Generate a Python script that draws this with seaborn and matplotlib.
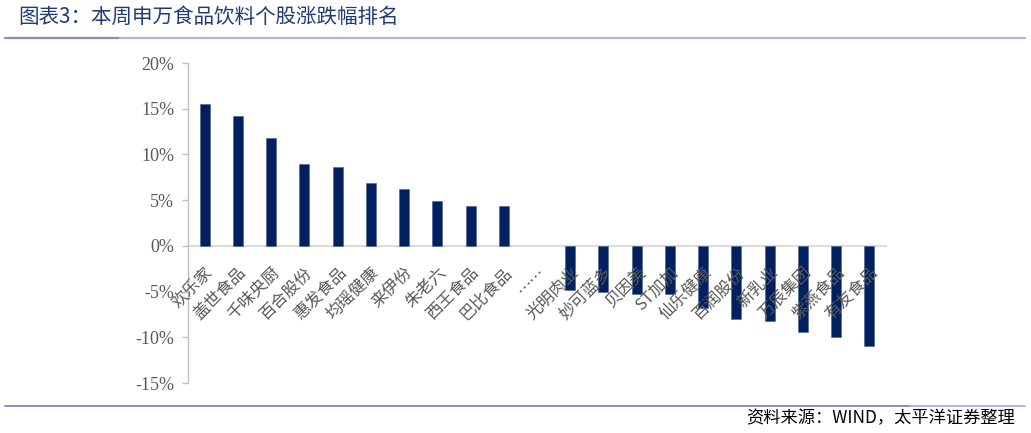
import matplotlib
matplotlib.use('Agg')
import matplotlib.pyplot as plt
import seaborn as sns
import numpy as np
import pandas as pd
from matplotlib.lines import Line2D

categories = ["欢乐家", "盖世食品", "千味央厨", "百合股份", "惠发食品", "均瑶健康", "来伊份",
              "朱老六", "西王食品", "巴比食品", "……", "光明肉业", "妙可蓝多", "贝因美", "ST加加",
              "仙乐健康", "百润股份", "新乳业", "万辰集团", "紫燕食品", "有友食品"]
changes = [15.5, 14.2, 11.8, 8.9, 8.6, 6.9, 6.2, 4.95, 4.4, 4.35, np.nan,
           -4.8, -5.05, -5.25, -5.3, -6.8, -8.0, -8.2, -9.4, -10.0, -11.0]
yticks = [-15, -10, -5, 0, 5, 10, 15, 20]
title = "图表3：本周申万食品饮料个股涨跌幅排名"
source = "资料来源：WIND，太平洋证券整理"

sns.set_theme(style='white')
plt.rcParams['font.family'] = ['Noto Sans CJK SC', 'DejaVu Sans']

W, H = 1031, 433
fig = plt.figure(figsize=(W / 100, H / 100), dpi=100)
ax = fig.add_axes([188 / W, 1 - 383 / H, (886 - 188) / W, (383 - 63) / H])

df = pd.DataFrame({'cat': categories, 'val': changes})
sns.barplot(data=df, x='cat', y='val', order=categories, color='#002060',
            saturation=1, width=0.3, ax=ax, edgecolor='#4a5f8f', linewidth=0.4)
ax.set_axisbelow(False)

ax.set_xlim(-0.5, len(categories) - 0.5)
ax.set_ylim(-15, 20)
ax.set_yticks(yticks)
ax.set_yticklabels([f"{v}%" for v in yticks], fontfamily='Liberation Serif',
                   fontsize=13, color='#595959')
ax.set_xlabel('')
ax.set_ylabel('')

for s in ['top', 'right']:
    ax.spines[s].set_visible(False)
ax.spines['bottom'].set_position(('data', 0))
ax.spines['bottom'].set_color('#D9D9D9')
ax.spines['bottom'].set_linewidth(1.3)
ax.spines['bottom'].set_zorder(0.5)
ax.spines['left'].set_color('#BFBFBF')
ax.spines['left'].set_linewidth(1.0)
ax.tick_params(axis='y', which='both', left=True, length=4, width=1.0,
               color='#BFBFBF', pad=6)
ax.tick_params(axis='x', length=0, pad=13)

ax.set_xticks(range(len(categories)))
ax.set_xticklabels(categories, rotation=45, ha='right', va='top',
                   rotation_mode='anchor', fontsize=12, color='#595959',
                   fontweight='light')

fig.text(18 / W, 1 - 17 / H, title, fontsize=14.8, color='#1F3C74',
         ha='left', va='center', fontweight='medium')
fig.add_artist(Line2D([5 / W, 120 / W], [1 - 38 / H] * 2, transform=fig.transFigure,
                      color='#8C8CBA', lw=1.6))
fig.add_artist(Line2D([120 / W, 1025 / W], [1 - 38 / H] * 2, transform=fig.transFigure,
                      color='#B4B4D4', lw=1.6))
fig.add_artist(Line2D([5 / W, 910 / W], [1 - 406 / H] * 2, transform=fig.transFigure,
                      color='#8C8CBA', lw=1.4))
fig.add_artist(Line2D([910 / W, 1025 / W], [1 - 406 / H] * 2, transform=fig.transFigure,
                      color='#B4B4D4', lw=1.4))
fig.text(1015 / W, 1 - 418 / H, source, fontsize=12.4, color='#000000',
         ha='right', va='center', style='italic')

fig.savefig('out.png', dpi=100)
